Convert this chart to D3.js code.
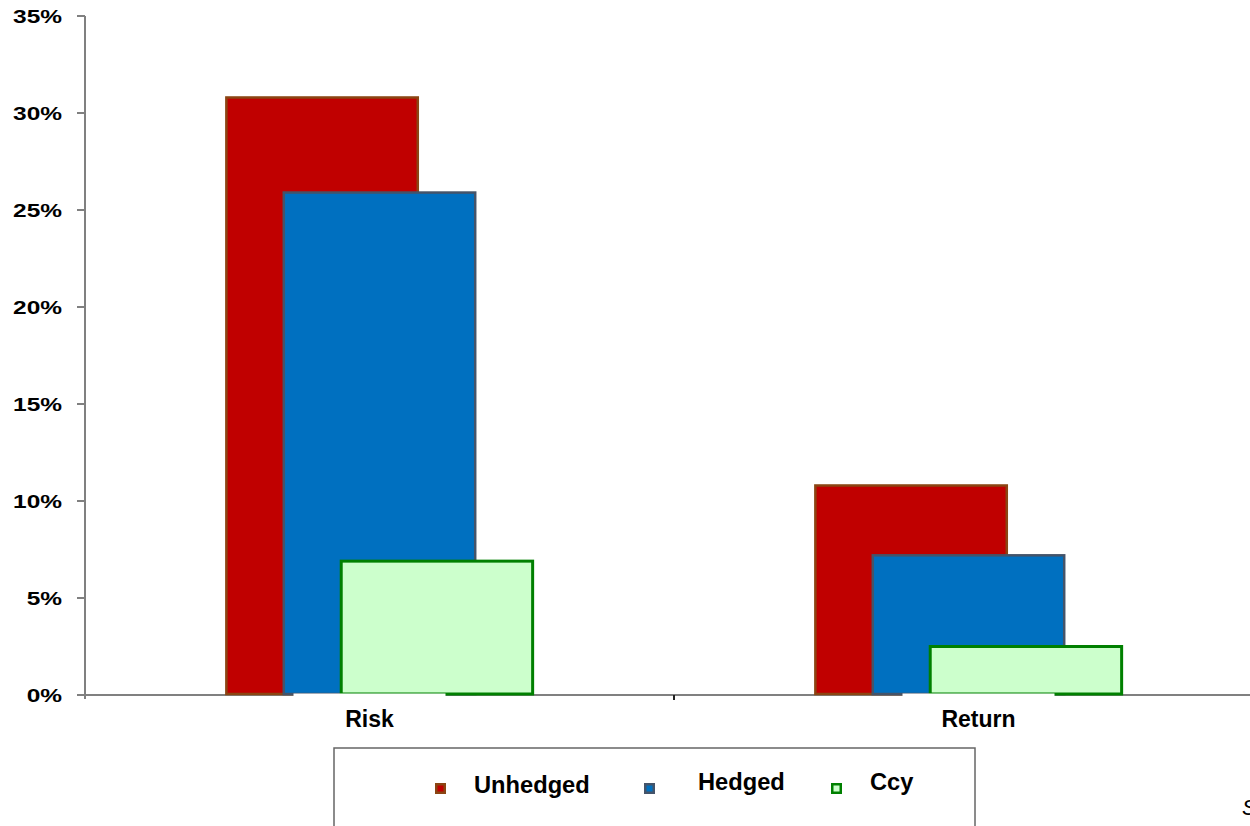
<!DOCTYPE html>
<html>
<head>
<meta charset="utf-8">
<script src="https://cdn.jsdelivr.net/npm/d3@7"></script>
<style>
  html, body { margin: 0; padding: 0; background: #fff; overflow: hidden; }
  svg { display: block; font-family: "Liberation Sans", Arial, sans-serif; }
</style>
</head>
<body>
<svg id="chart" width="1250" height="826"></svg>
<script>
// Chart data
const categories = ["Risk", "Return"];
const seriesNames = ["Unhedged", "Hedged", "Ccy"];
const unhedged = [0.308, 0.108];
const hedged = [0.259, 0.072];
const ccy = [0.069, 0.025];
const yTicks = [0, 0.05, 0.10, 0.15, 0.20, 0.25, 0.30, 0.35];

const seriesValues = [unhedged, hedged, ccy];
const fills = ["#C00000", "#0070C0", "#CCFFCC"];
const strokes = ["#8B4513", "#44546A", "#008000"];
const strokeWidths = [2.5, 2.5, 3];

const svg = d3.select("#chart");

const x = d3.scaleBand().domain(categories).range([85, 1263]).padding(0);
const y = d3.scaleLinear().domain([0, 0.35]).range([695, 16]);

const bw = x.bandwidth();
const barWidth = bw * 0.325;
const barShift = bw * 0.0975;
const groupWidth = barWidth + barShift * (seriesNames.length - 1);

// Axes
const axisColor = "#808080";
svg.append("line")
  .attr("x1", 85).attr("x2", 85).attr("y1", y(0.35)).attr("y2", y(0) + 4)
  .attr("stroke", axisColor).attr("stroke-width", 2);
svg.append("line")
  .attr("x1", 85).attr("x2", 1263).attr("y1", y(0)).attr("y2", y(0))
  .attr("stroke", axisColor).attr("stroke-width", 2);

const yAxisG = svg.append("g");
yTicks.forEach(t => {
  yAxisG.append("line")
    .attr("x1", 77).attr("x2", 85).attr("y1", y(t)).attr("y2", y(t))
    .attr("stroke", axisColor).attr("stroke-width", 2);
  yAxisG.append("text")
    .attr("transform", `translate(62,${y(t) + 6.5}) scale(1.36,1)`)
    .attr("text-anchor", "end")
    .attr("font-size", 18)
    .attr("font-weight", "bold")
    .attr("fill", "#000")
    .text(d3.format(".0%")(t));
});

// Category boundary ticks
categories.slice(1).forEach(c => {
  svg.append("line")
    .attr("x1", x(c)).attr("x2", x(c)).attr("y1", y(0)).attr("y2", y(0) + 5)
    .attr("stroke", "#222").attr("stroke-width", 2);
});

// Bars: overlapping series, each shifted right of the previous one
seriesValues.forEach((vals, si) => {
  svg.append("g").selectAll("rect")
    .data(vals)
    .join("rect")
    .attr("x", (d, i) => x(categories[i]) + (bw - groupWidth) / 2 + si * barShift)
    .attr("y", d => y(d))
    .attr("width", barWidth)
    .attr("height", d => y(0) - y(d) - 1)
    .attr("fill", fills[si])
    .attr("stroke", strokes[si])
    .attr("stroke-width", strokeWidths[si]);
});

// Category labels on white boxes (labels sit slightly off the band centre)
const labelBoxW = 152;
const labelNudge = 10;
categories.forEach((c, i) => {
  const cx = x(c) + bw / 2 + (i === 0 ? -labelNudge : labelNudge);
  svg.append("rect")
    .attr("x", cx - labelBoxW / 2).attr("y", y(0) - 1.5)
    .attr("width", labelBoxW).attr("height", 40)
    .attr("fill", "#fff");
  svg.append("text")
    .attr("x", cx).attr("y", 727)
    .attr("text-anchor", "middle")
    .attr("font-size", 23)
    .attr("font-weight", "bold")
    .text(c);
});

// Legend
const legend = svg.append("g");
legend.append("rect")
  .attr("x", 334).attr("y", 748).attr("width", 641).attr("height", 100)
  .attr("fill", "#fff").attr("stroke", "#666").attr("stroke-width", 1.5);

const legendItems = [
  { mx: 435, tx: 474, ty: 792.5 },
  { mx: 644, tx: 698, ty: 790 },
  { mx: 831, tx: 870, ty: 790 }
];
seriesNames.forEach((name, i) => {
  const it = legendItems[i];
  legend.append("rect")
    .attr("x", it.mx + 1.25).attr("y", 783 + 1.25)
    .attr("width", 8.5).attr("height", 8.5)
    .attr("fill", fills[i])
    .attr("stroke", strokes[i])
    .attr("stroke-width", 2.5);
  legend.append("text")
    .attr("transform", `translate(${it.tx},${it.ty}) scale(1.03,1)`)
    .attr("font-size", 23)
    .attr("font-weight", "bold")
    .text(name);
});

// Source note
svg.append("text")
  .attr("x", 1242).attr("y", 815)
  .attr("font-size", 22)
  .attr("font-style", "italic")
  .text("Source: Bloomberg");
</script>
</body>
</html>
